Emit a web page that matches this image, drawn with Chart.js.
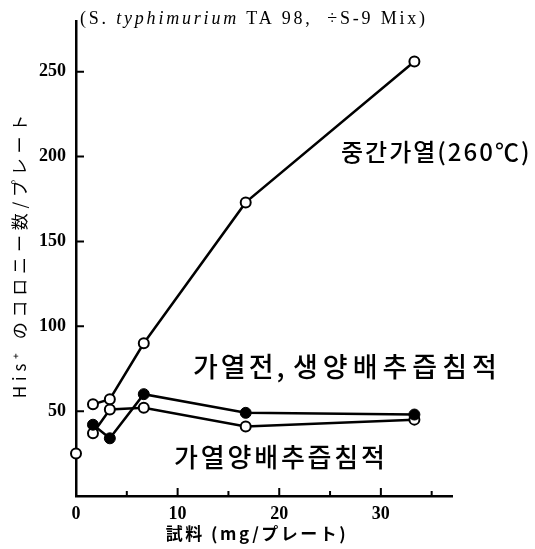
<!DOCTYPE html>
<html>
<head>
<meta charset="utf-8">
<script src="https://cdn.jsdelivr.net/npm/chart.js@4.4.1/dist/chart.umd.min.js"></script>
<style>
  html, body { margin: 0; padding: 0; background: #fff; }
  #wrap { width: 535px; height: 549px; }
</style>
</head>
<body>
<div id="wrap"><canvas id="chart" width="535" height="549"></canvas></div>
<script>
// sample doses (mg/plate)
const doses = [1.67, 3.33, 6.67, 16.7, 33.3];
// His+ revertant colonies per plate
const midHeatCounts = [54, 57, 90, 173, 256];   // 중간가열(260℃)
const rawCounts = [42, 34, 60, 49, 48];         // 가열전, 생양배추즙침적
const heatedCounts = [37, 51, 52, 41, 45];      // 가열양배추즙침적
// spontaneous (no sample) control
const controlDose = [0];
const controlCount = [25];

const xTicks = [0, 10, 20, 30];
const yTicks = [50, 100, 150, 200, 250];
const xMinorTicks = [5, 15, 25, 35];

const toPoints = (xs, ys) => xs.map((x, i) => ({ x, y: ys[i] }));

const openPoint = {
  pointRadius: 5,
  pointBackgroundColor: '#fff',
  pointBorderColor: '#000',
  pointBorderWidth: 2,
};
const filledPoint = {
  pointRadius: 5.5,
  pointBackgroundColor: '#000',
  pointBorderColor: '#000',
  pointBorderWidth: 1,
};

function spacedText(ctx, text, x, y, font, spacing) {
  ctx.font = font;
  ctx.letterSpacing = spacing + 'px';
  ctx.fillText(text, x, y);
  ctx.letterSpacing = '0px';
}

// inward tick marks and the free-standing text
const decorations = {
  id: 'decorations',
  afterDraw(chart) {
    const { ctx, chartArea, scales } = chart;
    const x = scales.x;
    const y = scales.y;
    ctx.save();
    ctx.strokeStyle = '#000';
    ctx.lineWidth = 2;
    ctx.beginPath();
    yTicks.forEach((v) => {
      const py = y.getPixelForValue(v);
      ctx.moveTo(chartArea.left, py);
      ctx.lineTo(chartArea.left + 8, py);
    });
    xTicks.slice(1).forEach((v) => {
      const px = x.getPixelForValue(v);
      ctx.moveTo(px, chartArea.bottom);
      ctx.lineTo(px, chartArea.bottom - 8);
    });
    xMinorTicks.forEach((v) => {
      const px = x.getPixelForValue(v);
      ctx.moveTo(px, chartArea.bottom);
      ctx.lineTo(px, chartArea.bottom - 5);
    });
    ctx.stroke();

    ctx.fillStyle = '#000';
    ctx.textBaseline = 'middle';
    ctx.textAlign = 'left';

    // strain / S-9 header
    let tx = 80;
    const parts = [
      ['(S. ', '18px "Liberation Serif"'],
      ['typhimurium', 'italic 18px "Liberation Serif"'],
      [' TA 98,  ÷S-9 Mix)', '18px "Liberation Serif"'],
    ];
    ctx.letterSpacing = '2.8px';
    parts.forEach(([t, f]) => {
      ctx.font = f;
      ctx.fillText(t, tx, 19);
      tx += ctx.measureText(t).width;
    });
    ctx.letterSpacing = '0px';

    // series labels
    spacedText(ctx, '중간가열(260℃)', 341, 152, '500 24px "Noto Sans CJK KR"', 2);
    spacedText(ctx, '가열전,', 193, 367, '500 27px "Noto Sans CJK KR"', 3);
    spacedText(ctx, '생양배추즙침적', 293, 367, '500 27px "Noto Sans CJK KR"', 5);
    spacedText(ctx, '가열양배추즙침적', 174, 457, '500 26px "Noto Sans CJK KR"', 2.8);

    // axis titles
    ctx.textAlign = 'center';
    spacedText(ctx, '試料 (mg/プレート)', 257, 534, 'bold 17px "Noto Sans CJK JP"', 2.5);

    ctx.translate(20, 254);
    ctx.rotate(-Math.PI / 2);
    spacedText(ctx, 'His⁺ のコロニー数/プレート', 0, 0, '17px "Noto Sans CJK JP"', 4.8);
    ctx.restore();
  },
};

new Chart(document.getElementById('chart'), {
  type: 'scatter',
  data: {
    datasets: [
      {
        label: '중간가열(260℃)',
        data: toPoints(doses, midHeatCounts),
        showLine: true,
        borderColor: '#000',
        borderWidth: 2.5,
        clip: false,
        ...openPoint,
      },
      {
        label: '가열전, 생양배추즙침적',
        data: toPoints(doses, rawCounts),
        showLine: true,
        borderColor: '#000',
        borderWidth: 2.5,
        clip: false,
        ...filledPoint,
      },
      {
        label: '가열양배추즙침적',
        data: toPoints(doses, heatedCounts),
        showLine: true,
        borderColor: '#000',
        borderWidth: 2.5,
        clip: false,
        ...openPoint,
      },
      {
        label: 'control',
        data: toPoints(controlDose, controlCount),
        showLine: false,
        clip: false,
        ...openPoint,
      },
    ],
  },
  options: {
    responsive: false,
    animation: false,
    layout: { padding: { left: 0, top: 12, right: 83, bottom: 0 } },
    plugins: {
      legend: { display: false },
      tooltip: { enabled: false },
    },
    scales: {
      x: {
        type: 'linear',
        min: 0,
        max: 37,
        afterBuildTicks: (scale) => {
          scale.ticks = xTicks.map((value) => ({ value }));
        },
        afterFit: (scale) => {
          scale.height = 53;
        },
        grid: { display: false, drawTicks: false },
        border: { display: true, color: '#000', width: 2.5 },
        ticks: {
          padding: 8,
          color: '#000',
          font: { family: 'Liberation Serif', size: 18, weight: 'bold' },
        },
      },
      y: {
        type: 'linear',
        min: 0,
        max: 280,
        afterBuildTicks: (scale) => {
          scale.ticks = yTicks.map((value) => ({ value }));
        },
        afterFit: (scale) => {
          scale.width = 76;
        },
        grid: { display: false, drawTicks: false },
        border: { display: true, color: '#000', width: 2.5 },
        ticks: {
          padding: 10,
          color: '#000',
          font: { family: 'Liberation Serif', size: 18, weight: 'bold' },
        },
      },
    },
  },
  plugins: [decorations],
});
</script>
</body>
</html>
